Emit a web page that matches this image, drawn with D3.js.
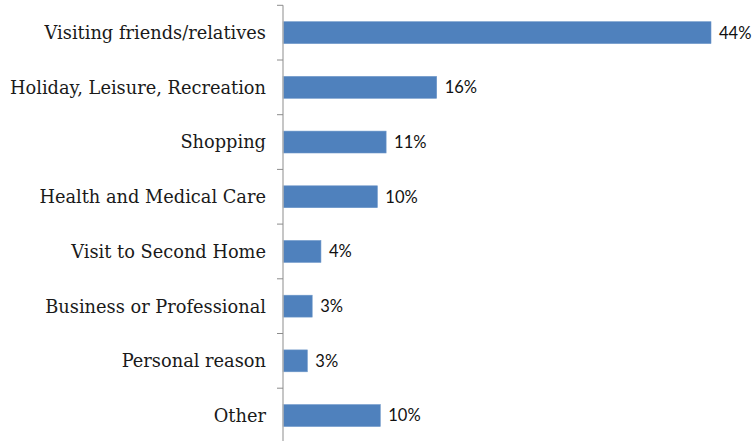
<!DOCTYPE html>
<html>
<head>
<meta charset="utf-8">
<script src="https://cdn.jsdelivr.net/npm/d3@7"></script>
<style>
  html, body { margin: 0; padding: 0; background: #fff; }
  .cat { font-family: "DejaVu Serif", serif; font-size: 17.8px; fill: #1a1a1a; }
  .val { font-family: Lato, "Open Sans", sans-serif; font-size: 16.5px; fill: #111; }
</style>
</head>
<body>
<div class="grafico"></div>
<script>
/* categorias y valores (%) */
const categories = ['Visiting friends/relatives', 'Holiday, Leisure, Recreation', 'Shopping',
  'Health and Medical Care', 'Visit to Second Home', 'Business or Professional', 'Personal reason', 'Other']
const values = [44.0, 15.8, 10.6, 9.7, 3.9, 3.0, 2.5, 10.0]
const valueLabels = ['44%', '16%', '11%', '10%', '4%', '3%', '3%', '10%']

const w = 754
const h = 441

const svg = d3.select('.grafico')
  .append('svg')
  .attr('width', w)
  .attr('height', h)

/* escalas */
const x = d3.scaleLinear()
  .domain([0, 44])
  .range([283, 711])

const y = d3.scaleBand()
  .domain(categories)
  .range([5.3, 442.9])
  .paddingInner(0.6)
  .paddingOuter(0.3)

/* barras */
svg.append('g')
  .selectAll('rect')
  .data(values)
  .join('rect')
  .attr('x', x(0))
  .attr('y', (d, i) => y(categories[i]))
  .attr('width', d => x(d) - x(0))
  .attr('height', y.bandwidth())
  .attr('fill', '#4f81bd')
  .attr('stroke', '#6b95c8')
  .attr('stroke-width', 0.6)

/* etiquetas de valor */
svg.append('g')
  .selectAll('text')
  .data(values)
  .join('text')
  .attr('class', 'val')
  .attr('x', d => x(d) + 8)
  .attr('y', (d, i) => y(categories[i]) + y.bandwidth() / 2)
  .attr('dy', '0.36em')
  .text((d, i) => valueLabels[i])

/* eje vertical con ticks entre categorias */
const yAxis = d3.axisLeft(y).tickSize(0).tickFormat('')
const axisG = svg.append('g')
  .attr('transform', `translate(${x(0)},0)`)
  .call(yAxis)
axisG.select('.domain').remove()

const step = y.step()
const y0 = y.range()[0]
const boundaries = d3.range(categories.length + 1).map(i => y0 + i * step)

axisG.append('line')
  .attr('x1', 0).attr('x2', 0)
  .attr('y1', boundaries[0]).attr('y2', h)
  .attr('stroke', '#b3b3b3')
  .attr('stroke-width', 1.5)

axisG.selectAll('.sep')
  .data(boundaries.slice(0, -1))
  .join('line')
  .attr('class', 'sep')
  .attr('x1', -6).attr('x2', 0)
  .attr('y1', d => d).attr('y2', d => d)
  .attr('stroke', '#8c8c8c')
  .attr('stroke-width', 1)

/* nombres de categorias */
svg.append('g')
  .selectAll('text')
  .data(categories)
  .join('text')
  .attr('class', 'cat')
  .attr('x', 266)
  .attr('y', d => y(d) + y.bandwidth() / 2)
  .attr('dy', '0.36em')
  .attr('text-anchor', 'end')
  .text(d => d)
</script>
</body>
</html>
